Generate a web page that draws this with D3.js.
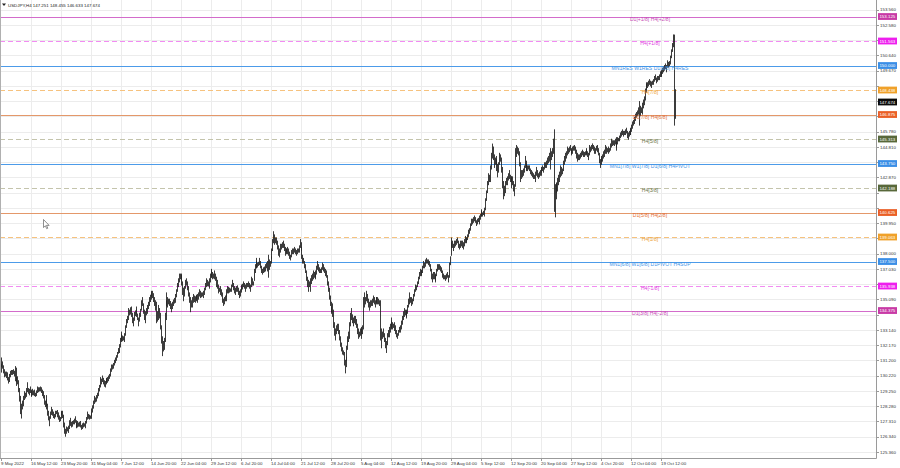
<!DOCTYPE html>
<html><head><meta charset="utf-8">
<script src="https://cdn.jsdelivr.net/npm/d3@7"></script>
<style>body{margin:0;background:#fff;}svg{display:block;font-family:"Liberation Sans",Arial,sans-serif;}</style>
</head><body><svg id="c" width="900" height="468"></svg>
<script>
// ---------------- DATA ----------------
const symbol = "USDJPY,H4";
const lastBarOHLC = [147.251, 148.455, 146.633, 147.674];
const currentPrice = 147.674;
const priceTicks = ["153.560","152.580","151.610","150.640","149.670","148.700","147.730","146.760","145.780","144.810","143.840","142.870","141.900","140.920","139.950","138.980","138.000","137.030","136.060","135.090","134.110","133.140","132.170","131.200","130.220","129.250","128.280","127.310","126.340","125.360"];
const dateLabels = ["9 May 2022","16 May 12:00","23 May 20:00","31 May 04:00","7 Jun 12:00","14 Jun 20:00","22 Jun 04:00","29 Jun 12:00","6 Jul 20:00","14 Jul 04:00","21 Jul 12:00","28 Jul 20:00","5 Aug 04:00","12 Aug 12:00","19 Aug 20:00","29 Aug 04:00","5 Sep 12:00","12 Sep 20:00","20 Sep 04:00","27 Sep 12:00","4 Oct 20:00","12 Oct 04:00","19 Oct 12:00"];
const dateLabelBars = [0,33,65,97,129,161,193,225,257,289,321,353,385,417,449,481,513,545,577,609,641,673,705];
const levelPrices = [153.125,151.563,150.000,148.438,146.875,145.313,143.750,142.188,140.625,139.063,137.500,135.938,134.375];
const levelNames = ["D1[+1/8] H4[+2/8]","H4[+1/8]","MN1RES W1RES D1[8/8] H4RES","H4[7/8]","D1[7/8] H4[6/8]","H4[5/8]","MN1[7/8] W1[7/8] D1[6/8] H4PIVOT","H4[3/8]","D1[5/8] H4[2/8]","H4[1/8]","MN1[6/8] W1[6/8] D1PIVOT H4SUP","H4[-1/8]","D1[3/8] H4[-2/8]"];
// H4 bars, one line per trading day (6 bars), 9 May 2022 .. 21 Oct 2022
const highs = [
130.95,131.35,131.10,130.85,130.60,130.45,
130.45,130.40,130.10,130.30,130.50,130.55,
130.55,130.60,130.50,130.80,130.70,130.10,
130.15,129.90,129.40,128.90,128.40,128.60,
128.90,129.20,129.10,129.40,129.77,129.40,
129.35,129.50,129.30,129.20,129.35,129.25,
129.30,129.10,129.25,129.50,129.45,129.45,
129.50,129.45,129.30,129.20,128.95,128.60,
128.70,128.95,128.40,127.95,127.60,127.90,
128.20,128.05,127.90,127.75,127.95,127.95,
128.00,127.85,127.65,127.55,127.90,127.95,
127.95,127.70,127.20,126.80,126.95,126.90,
127.00,127.35,127.50,127.25,127.30,127.35,
127.45,127.60,127.35,127.20,127.30,127.20,
127.25,127.30,127.05,127.15,127.20,127.15,
127.30,127.55,127.90,127.75,127.70,127.65,
127.85,128.10,128.30,128.60,128.90,128.80,
128.95,129.10,129.40,129.60,130.10,130.00,
130.20,130.05,129.90,129.85,130.05,130.00,
130.10,130.20,130.30,130.65,130.90,130.90,
131.00,131.20,131.35,131.50,131.70,131.95,
132.20,132.60,133.00,132.85,132.75,132.70,
132.90,133.40,133.80,134.00,134.50,134.40,
134.55,134.60,134.20,133.90,134.25,134.35,
134.60,134.40,134.15,133.90,134.20,134.45,
135.00,135.20,134.80,134.40,134.30,134.50,
134.70,134.90,135.20,135.35,135.50,135.60,
135.60,135.45,135.20,135.00,134.90,134.30,
134.70,134.50,134.20,133.40,132.70,132.40,
132.60,134.20,135.00,135.50,135.20,135.10,
135.10,134.95,134.80,134.90,135.05,135.15,
135.40,135.70,136.10,136.40,136.70,136.70,
136.70,136.60,136.20,135.80,135.90,136.30,
136.40,136.20,135.90,135.50,135.20,135.00,
135.20,135.40,135.30,135.25,135.35,135.30,
135.40,135.50,135.70,135.60,135.50,135.50,
135.60,135.80,136.10,136.40,136.30,136.20,
136.40,136.70,137.00,136.90,136.80,136.70,
136.90,136.70,136.50,136.30,136.00,135.80,
135.90,135.70,135.50,135.10,135.20,135.30,
135.40,135.70,135.90,135.85,135.80,135.75,
136.00,136.30,136.10,135.90,135.80,135.90,
135.95,135.80,135.60,135.70,135.90,136.00,
136.05,136.20,136.10,136.00,136.10,136.10,
136.20,136.10,136.00,136.50,136.40,136.20,
137.00,137.30,137.70,137.50,137.40,137.45,
137.70,137.50,137.20,137.00,137.10,137.15,
137.30,137.40,137.50,137.90,137.60,137.50,
137.80,138.30,138.90,139.40,139.20,139.00,
139.00,138.80,138.50,138.30,138.60,138.60,
138.70,138.80,138.60,138.40,138.30,138.30,
138.40,138.30,138.10,137.90,138.20,138.30,
138.30,138.40,138.30,138.20,138.30,138.30,
138.50,138.90,138.70,138.40,137.90,137.70,
137.50,137.30,136.90,136.50,136.30,136.20,
136.40,136.60,136.70,136.90,136.80,136.70,
136.90,137.20,137.50,137.30,137.10,137.00,
137.10,137.40,137.30,137.10,137.00,136.90,
136.60,136.20,135.80,135.30,134.90,134.60,
134.80,134.40,133.60,133.20,133.40,133.50,
133.50,133.10,132.70,132.30,132.00,131.80,
131.70,131.20,131.40,132.10,132.70,133.00,
133.60,134.20,134.50,134.10,133.90,134.00,
134.00,133.80,133.50,133.20,133.00,133.20,
133.30,133.20,133.40,135.20,135.50,135.20,
135.60,135.40,135.10,134.90,135.00,135.00,
135.10,135.30,135.20,135.00,135.20,135.20,
135.20,135.10,135.00,135.00,133.20,133.00,
133.20,132.90,132.60,132.40,132.90,133.10,
133.30,133.50,133.90,133.70,133.60,133.50,
133.60,133.40,133.10,132.90,133.10,133.30,
133.40,133.70,134.00,134.30,134.50,134.40,
134.40,134.30,134.70,135.10,135.50,135.20,
135.20,135.10,135.40,135.70,136.00,135.95,
136.20,136.50,136.80,137.00,136.90,136.95,
137.20,137.50,137.40,137.60,137.70,137.60,
137.60,137.50,137.30,137.00,136.70,136.80,
136.80,136.60,136.70,137.00,137.30,137.30,
137.30,137.20,137.10,136.90,136.70,136.60,
136.60,136.70,136.80,136.60,137.40,137.80,
138.70,139.00,138.80,138.60,138.80,138.80,
138.90,139.00,138.80,138.60,138.80,138.80,
138.80,138.70,138.90,139.10,139.00,139.00,
139.20,139.50,139.60,139.90,140.20,140.20,
140.30,140.40,140.30,140.10,140.20,140.25,
140.40,140.50,140.80,140.70,140.60,140.70,
140.90,141.50,142.00,142.60,143.10,143.00,
143.60,144.40,144.99,144.80,144.30,144.10,
144.20,144.00,143.70,143.80,144.40,144.30,
144.10,143.50,142.60,142.30,142.60,142.80,
142.90,143.10,143.30,143.00,142.90,142.90,
142.90,142.60,142.40,144.70,144.90,144.80,
144.70,144.50,143.80,143.30,143.30,143.40,
143.60,144.20,143.90,143.70,143.60,143.60,
143.60,143.40,143.30,143.20,143.10,143.00,
143.20,143.50,143.30,143.10,143.20,143.30,
143.40,143.50,143.60,143.50,143.80,143.80,
143.90,144.10,144.20,144.40,144.70,144.50,
144.70,145.30,145.90,142.40,142.50,142.50,
142.80,143.00,143.20,143.60,143.50,143.40,
143.90,144.20,144.40,144.50,144.80,144.70,
144.80,144.90,144.70,144.60,144.80,144.85,
144.90,144.80,144.60,144.40,144.30,144.30,
144.40,144.50,144.60,144.50,144.45,144.50,
144.60,144.70,144.50,144.40,144.90,144.80,
144.90,145.00,144.90,144.80,144.70,144.85,
144.90,144.70,144.40,144.00,144.10,144.20,
144.30,144.50,144.60,144.90,144.80,144.70,
144.80,144.70,145.00,145.30,145.20,145.20,
145.20,145.30,145.10,145.40,145.40,145.35,
145.50,145.70,145.80,145.90,145.80,145.80,
145.90,146.00,145.80,145.70,145.80,145.90,
146.00,146.20,146.40,146.50,146.70,146.90,
147.00,147.10,147.30,147.70,147.40,147.30,
147.60,147.80,148.00,148.50,148.90,148.80,
148.90,149.00,149.10,149.00,148.95,149.00,
149.10,149.30,149.40,149.20,149.30,149.30,
149.40,149.60,149.70,149.60,149.80,149.90,
150.00,150.10,150.00,150.30,150.20,150.25,
150.60,151.00,151.40,151.95,151.94,148.455];
const lows = [
130.45,130.80,130.70,130.40,130.15,130.20,
130.10,129.95,129.75,129.85,130.15,130.30,
130.30,130.35,130.20,129.90,129.60,129.85,
129.70,129.20,128.60,127.80,127.52,128.10,
128.30,128.70,128.80,128.90,129.20,129.10,
129.00,129.15,128.95,128.90,129.00,129.00,
128.95,128.90,128.95,129.15,129.20,129.25,
129.25,129.15,128.95,128.80,128.40,128.25,
128.10,128.30,127.70,127.40,127.03,127.50,
127.75,127.70,127.55,127.50,127.60,127.80,
127.60,127.45,127.30,127.35,127.50,127.75,
127.55,126.95,126.55,126.36,126.55,126.70,
126.60,126.85,127.05,126.95,127.00,127.15,
127.15,127.25,126.95,126.90,126.95,127.00,
127.00,126.95,126.80,126.85,126.95,127.00,
126.90,127.20,127.45,127.50,127.45,127.50,
127.50,127.70,127.90,128.15,128.45,128.55,
128.60,128.80,128.95,129.25,129.50,129.70,
129.85,129.70,129.55,129.50,129.70,129.80,
129.80,129.90,130.05,130.20,130.50,130.65,
130.70,130.90,131.05,131.20,131.40,131.65,
131.70,132.05,132.50,132.40,132.45,132.50,
132.40,132.80,133.30,133.60,133.80,134.10,
134.15,134.00,133.60,133.40,133.75,134.05,
134.20,134.00,133.80,133.40,133.70,134.00,
134.40,134.70,134.20,133.80,133.60,134.10,
134.20,134.50,134.70,134.95,135.10,135.30,
135.20,134.95,134.70,134.40,133.60,133.70,
133.80,133.90,133.20,132.30,131.50,131.80,
131.90,132.40,133.80,134.70,134.60,134.80,
134.70,134.50,134.30,134.50,134.70,134.85,
134.90,135.25,135.60,135.90,136.20,136.40,
136.30,136.00,135.40,135.00,135.30,135.80,
136.00,135.70,135.30,134.90,134.30,134.60,
134.60,134.90,134.95,134.90,135.00,135.10,
134.90,135.10,135.30,135.20,135.25,135.30,
135.20,135.40,135.70,135.90,135.95,135.95,
135.80,136.20,136.50,136.50,136.40,136.45,
136.40,136.30,135.90,135.80,135.50,135.60,
135.40,135.30,134.90,134.70,134.80,135.00,
135.00,135.30,135.50,135.50,135.55,135.60,
135.60,135.90,135.70,135.50,135.40,135.60,
135.60,135.40,135.20,135.30,135.55,135.70,
135.75,135.90,135.80,135.60,135.80,135.90,
135.90,135.80,135.60,135.90,136.00,136.00,
136.30,136.80,137.10,137.10,137.15,137.25,
137.30,137.10,136.80,136.70,136.80,136.85,
136.90,137.10,136.90,136.50,137.00,137.20,
137.40,137.70,138.20,138.70,138.60,138.70,
138.60,138.30,137.90,137.80,138.10,138.30,
138.40,138.40,138.20,137.90,138.00,138.10,
138.00,137.90,137.70,137.60,137.80,138.00,
138.00,138.10,138.00,137.90,138.00,138.10,
138.10,138.40,138.20,137.70,137.40,137.40,
137.10,136.80,136.30,135.90,135.60,135.90,
135.60,136.10,136.30,136.40,136.50,136.50,
136.40,136.70,137.00,136.90,136.80,136.80,
136.80,137.00,136.90,136.80,136.60,136.50,
136.00,135.60,135.10,134.70,134.30,134.20,
134.00,133.30,132.80,132.50,132.90,133.10,
132.90,132.50,132.10,131.80,131.60,131.55,
130.90,130.40,130.80,131.20,131.90,132.40,
132.60,133.40,133.80,133.60,133.40,133.60,
133.50,133.30,132.90,132.60,132.70,132.80,
132.90,132.60,132.90,133.20,134.60,134.80,
135.00,134.90,134.60,134.40,134.60,134.70,
134.70,134.90,134.80,134.60,134.80,134.90,
134.80,134.80,134.70,132.50,132.00,132.60,
132.70,132.40,132.00,131.70,132.20,132.70,
132.70,133.00,133.30,133.20,133.20,133.30,
133.10,132.90,132.70,132.60,132.80,133.00,
133.00,133.20,133.50,133.80,134.00,134.10,
134.00,133.90,134.20,134.60,134.80,134.90,
134.70,134.80,135.00,135.30,135.60,135.70,
135.90,136.10,136.40,136.60,136.60,136.70,
136.80,137.10,137.10,137.20,137.40,137.40,
137.30,137.20,136.90,136.40,136.20,136.40,
136.40,136.20,136.30,136.60,136.90,137.00,
137.00,136.90,136.80,136.50,136.40,136.40,
136.30,136.40,136.50,136.20,136.50,137.30,
137.90,138.40,138.40,138.20,138.40,138.50,
138.60,138.70,138.40,138.30,138.40,138.50,
138.40,138.30,138.50,138.70,138.70,138.80,
138.90,139.10,139.30,139.50,139.80,139.90,
140.00,140.10,140.00,139.80,139.90,140.05,
139.90,140.20,140.40,140.40,140.40,140.50,
140.40,140.80,141.40,141.90,142.40,142.60,
142.60,143.40,144.10,144.00,143.50,143.70,
143.70,143.30,142.90,143.20,143.70,143.90,
143.20,142.20,141.50,141.70,141.90,142.40,
142.40,142.70,142.80,142.60,142.20,142.60,
142.40,142.00,141.70,142.30,144.20,144.40,
144.30,143.60,142.60,142.80,142.90,143.00,
143.20,143.50,143.40,143.30,143.30,143.40,
143.30,143.10,143.00,142.90,142.80,142.80,
142.60,143.00,142.90,142.80,142.90,143.00,
143.00,143.20,143.30,143.20,143.40,143.50,
143.50,143.70,143.80,143.90,143.40,144.00,
144.20,144.40,140.70,140.35,141.50,141.90,
142.00,142.40,142.60,142.90,143.00,143.10,
143.30,143.70,143.90,144.10,144.30,144.40,
144.50,144.60,144.40,144.30,144.40,144.60,
144.60,144.40,144.10,143.90,144.00,144.00,
144.10,144.20,144.30,144.20,144.20,144.30,
144.30,144.40,144.20,144.00,144.30,144.50,
144.60,144.70,144.60,144.40,144.40,144.60,
144.50,144.30,143.80,143.50,143.70,143.90,
143.90,144.10,144.20,144.40,144.40,144.50,
144.40,144.50,144.60,144.80,144.90,144.95,
144.90,145.00,144.80,144.60,145.00,145.20,
145.20,145.40,145.50,145.60,145.50,145.60,
145.60,145.70,145.40,145.30,145.50,145.60,
145.60,145.80,146.00,146.20,146.30,146.50,
146.70,146.80,146.90,146.20,146.80,147.00,
146.90,147.30,147.50,147.80,148.30,148.50,
148.60,148.70,148.80,148.70,148.60,148.80,
148.80,149.00,149.10,148.90,149.00,149.10,
149.10,149.30,149.40,149.30,149.50,149.60,
149.70,149.80,149.60,149.90,149.90,150.00,
150.10,150.50,150.90,151.20,146.20,146.633];

// ---------------- STYLE ----------------
const C = {plum:"#c83aa6", magenta:"#ee1fee", blue:"#3a8ee6", orange:"#f0a12a", red:"#ea5f26", olive:"#58683a"};
const levelColor = [C.plum,C.magenta,C.blue,C.orange,C.red,C.olive,C.blue,C.olive,C.red,C.orange,C.blue,C.magenta,C.plum];
const levelTextColor = ["#c64cb6","#e040e0","#3f93e6","#eea43a","#e2703a","#6a7448","#3f93e6","#6a7448","#e2703a","#eea43a","#3f93e6","#e040e0","#c64cb6"];
const levelLineColor = ["#d36ccb","#f28cf2","#4c9be9","#f6c27e","#e4986a","#c4c4ac","#4c9be9","#c4c4ac","#e4986a","#f6c27e","#4c9be9","#f28cf2","#d36ccb"];
const levelDashed = [false,true,false,true,false,true,false,true,false,true,false,true,false];

const plotR = 876, plotB = 458;
const svg = d3.select("#c");
const x = d3.scaleLinear().domain([0, highs.length - 1]).range([0.5, 0.5 + (highs.length - 1) * 0.9375]);
const y = d3.scaleLinear().domain([125.36, 153.56]).range([451.9, 9.7]);
const px = v => Math.round(v) + 0.5;

// grid
const g = svg.append("g").attr("stroke", "#ececec").attr("stroke-width", 1);
g.selectAll("line.hg").data(priceTicks).join("line").attr("class", "hg")
  .attr("x1", 0).attr("x2", plotR).attr("y1", d => px(y(+d))).attr("y2", d => px(y(+d)));
g.selectAll("line.vg").data(dateLabelBars.slice(1)).join("line").attr("class", "vg")
  .attr("y1", 0).attr("y2", plotB).attr("x1", d => px(x(d))).attr("x2", d => px(x(d)));

// level lines
const lv = svg.append("g");
levelPrices.forEach((p, i) => {
  lv.append("line").attr("x1", 0).attr("x2", plotR)
    .attr("y1", px(y(p))).attr("y2", px(y(p)))
    .attr("stroke", levelLineColor[i]).attr("stroke-width", 1)
    .attr("stroke-dasharray", levelDashed[i] ? "5,3" : null);
});

// candles (H4 bars drawn as high-low lines at this zoom)
const bars = d3.range(highs.length);
svg.append("g").selectAll("line.bar").data(bars).join("line").attr("class", "bar")
  .attr("x1", i => px(x(i))).attr("x2", i => px(x(i)))
  .attr("y1", i => y(highs[i]) - 0.5).attr("y2", i => Math.max(y(lows[i]), y(highs[i]) + 1) + 0.5)
  .attr("stroke", "#262626").attr("stroke-width", 0.9);

// level labels
levelPrices.forEach((p, i) => {
  svg.append("text").attr("x", 650).attr("y", y(p) + 4.2)
    .attr("text-anchor", "middle").attr("font-size", 5.1)
    .attr("fill", levelTextColor[i]).text(levelNames[i]);
});

// frame
svg.append("line").attr("x1", px(plotR)).attr("x2", px(plotR)).attr("y1", 0).attr("y2", plotB + 0.5).attr("stroke", "#9a9a9a");
svg.append("line").attr("x1", 0).attr("x2", plotR + 0.5).attr("y1", px(plotB)).attr("y2", px(plotB)).attr("stroke", "#9a9a9a");
svg.append("line").attr("x1", 0.5).attr("x2", 0.5).attr("y1", 0).attr("y2", plotB).attr("stroke", "#b0b0b0");

// price axis ticks and labels (labels hidden where a level box covers them)
const boxYs = levelPrices.concat([currentPrice]).map(p => y(p));
const ax = svg.append("g").attr("font-size", 4.4).attr("fill", "#333");
priceTicks.forEach(t => {
  const yy = y(+t);
  ax.append("line").attr("x1", plotR).attr("x2", plotR + 3).attr("y1", px(yy)).attr("y2", px(yy)).attr("stroke", "#9a9a9a");
  if (boxYs.every(b => Math.abs(b - yy) > 5)) ax.append("text").attr("x", 880).attr("y", yy + 1.6).text(t);
});

// date axis
const dx = svg.append("g").attr("font-size", 4.4).attr("fill", "#333");
dateLabels.forEach((t, i) => {
  const xx = x(dateLabelBars[i]);
  dx.append("line").attr("x1", px(xx)).attr("x2", px(xx)).attr("y1", plotB).attr("y2", plotB + 3).attr("stroke", "#9a9a9a");
  dx.append("text").attr("x", Math.max(1, xx - 0.5)).attr("y", 465).text(t);
});

// level price boxes
levelPrices.forEach((p, i) => {
  const yy = y(p);
  svg.append("rect").attr("x", 878).attr("y", yy - 3.4).attr("width", 19).attr("height", 6.8).attr("fill", levelColor[i]);
  svg.append("text").attr("x", 879.4).attr("y", yy + 1.6).attr("font-size", 4.4).attr("fill", "#fff").text(p.toFixed(3));
});
// current price box
{
  const yy = y(currentPrice);
  svg.append("rect").attr("x", 878).attr("y", yy - 3.4).attr("width", 19).attr("height", 6.8).attr("fill", "#0a0a0a");
  svg.append("text").attr("x", 879.4).attr("y", yy + 1.6).attr("font-size", 4.4).attr("fill", "#fff").text(currentPrice.toFixed(3));
}

// header
svg.append("path").attr("d", "M2,3.5 L6,3.5 L4,6 Z").attr("fill", "#222");
svg.append("text").attr("x", 8).attr("y", 6.5).attr("font-size", 4.4).attr("fill", "#222")
  .text(symbol + " " + lastBarOHLC.map(v => v.toFixed(3)).join(" "));

// mouse cursor
svg.append("path").attr("transform", "translate(43.5,219.5)")
  .attr("d", "M0,0 L0,8 L1.9,6.3 L3.2,9.2 L4.3,8.7 L3,5.9 L5.6,5.9 Z")
  .attr("fill", "#fff").attr("stroke", "#444").attr("stroke-width", 0.6);
</script></body></html>
